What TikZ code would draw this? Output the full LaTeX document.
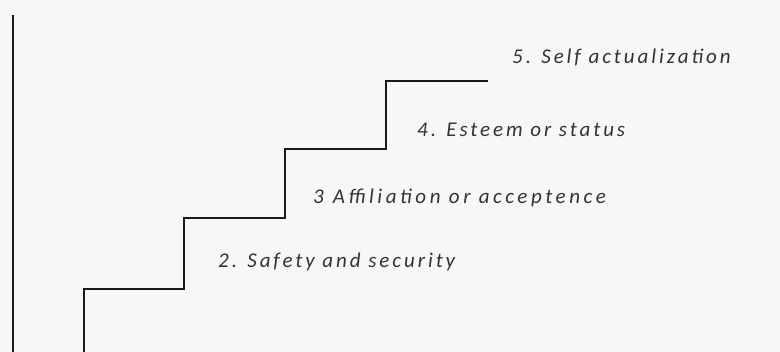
\documentclass[tikz,border=0pt]{standalone}
\usepackage{fontspec}
\setmainfont{Carlito}
\usetikzlibrary{positioning}

\tikzset{
  steplabel/.style={anchor=west, inner sep=0pt, text=black!80,
    font=\fontsize{21}{24}\selectfont\itshape\addfontfeatures{LetterSpace=14}},
  stairline/.style={line width=1.3pt, black!90}
}

\begin{document}
\begin{tikzpicture}[x=1pt,y=-1pt]
	\useasboundingbox[fill=gray!6] (0,0) rectangle (780,352);
	% left wall
	\coordinate (walltop) at (13,15);
	\coordinate (wallbottom) at (13,352);
	\draw[stairline] (walltop) -- (wallbottom);
	% the steps
	\coordinate (s0) at (84,352);
	\coordinate (s1) at (184,289);
	\coordinate (s2) at (285,218);
	\coordinate (s3) at (386,149);
	\coordinate (s4) at (488,81);
	\draw[stairline] (s0) |- (s1) |- (s2) |- (s3) |- (s4);
	% labels
	\node[steplabel] (safety) at (218,262) {2. Safety and security};
	\node[steplabel] (affiliation) at (313,198) {3\hspace{9pt}{\addfontfeatures{LetterSpace=17}Affiliation or acceptence}};
	\node[steplabel] (esteem) at (417,130) {4. Esteem or status};
	\node[steplabel] (self) at (512,57) {5. Self actualization};
\end{tikzpicture}
\end{document}
